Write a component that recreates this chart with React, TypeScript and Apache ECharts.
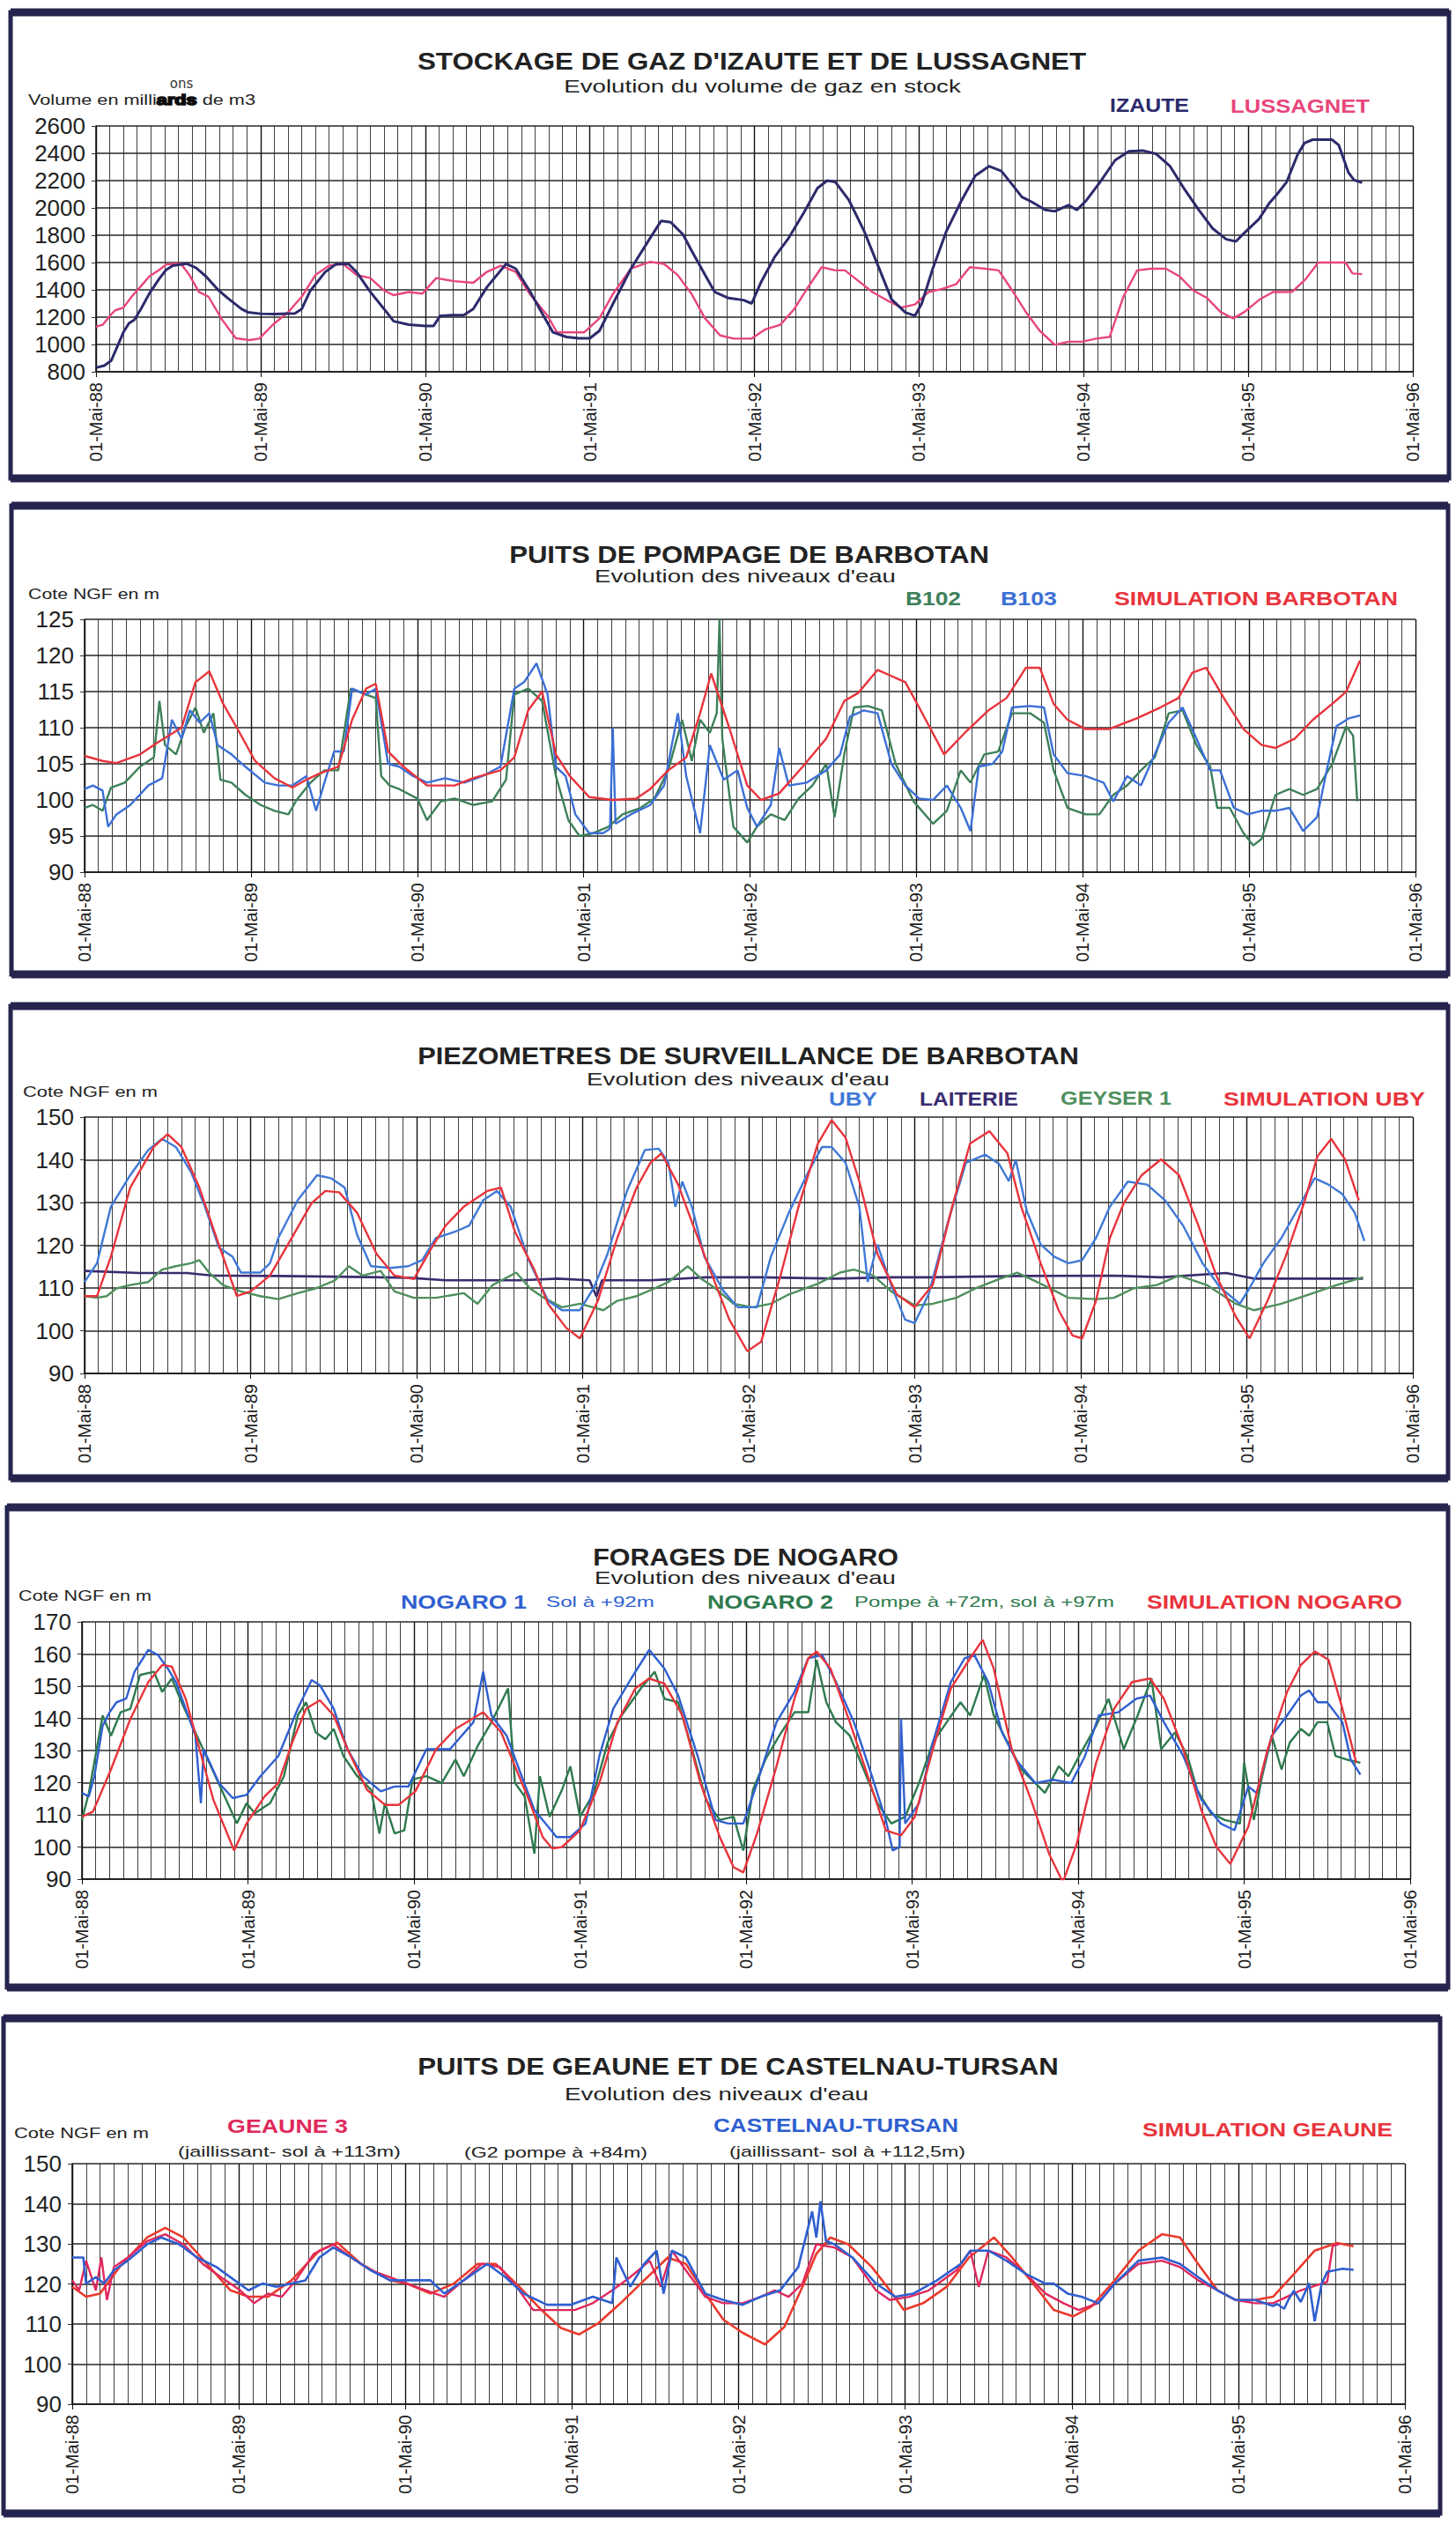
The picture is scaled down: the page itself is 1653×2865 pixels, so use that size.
import React, { useEffect, useRef } from "react";
import * as echarts from "echarts";

// ---------- tick labels ----------
const xTickLabels = ["01-Mai-88", "01-Mai-89", "01-Mai-90", "01-Mai-91", "01-Mai-92", "01-Mai-93", "01-Mai-94", "01-Mai-95", "01-Mai-96"];

// x = months since 01-Mai-88, y = value
// ---------- Panel 1 : gas storage ----------
const izaute = [[0,830],[0.6,845],[1.1,880],[1.45,960],[2,1090],[2.4,1155],[2.8,1180],[3.3,1265],[3.9,1375],[4.6,1480],[5.1,1545],[5.6,1578],[6.6,1592],[7.3,1560],[8,1500],[8.9,1400],[9.6,1340],[10.6,1260],[11.1,1235],[12,1225],[13,1222],[14.5,1228],[15,1260],[15.6,1390],[16.7,1530],[17.5,1588],[18.4,1590],[19,1530],[20,1385],[21,1260],[21.7,1170],[22.8,1145],[24,1135],[24.6,1135],[25.1,1210],[26,1215],[26.8,1215],[27.5,1260],[28.5,1420],[29.9,1590],[30.6,1555],[31.6,1395],[32.6,1215],[33.3,1090],[34.3,1055],[35.2,1045],[36,1045],[36.7,1100],[37.7,1300],[39,1555],[40.4,1780],[41.2,1905],[41.9,1895],[42.8,1805],[43.4,1690],[44.4,1510],[45.1,1385],[46.1,1340],[47.2,1325],[47.8,1300],[48.5,1460],[49.5,1645],[50.5,1780],[51.6,1965],[52.6,2145],[53.3,2200],[53.9,2190],[54.9,2055],[56,1830],[57,1580],[58,1330],[59,1235],[59.7,1210],[60.2,1300],[61,1555],[62,1830],[63.1,2055],[64.1,2235],[65.1,2305],[66,2270],[66.8,2170],[67.5,2080],[68.2,2045],[69.2,1985],[69.9,1975],[70.9,2020],[71.5,1985],[72.2,2055],[73.2,2190],[74.3,2350],[75.3,2415],[76.3,2420],[77.3,2395],[78.3,2305],[79.3,2145],[80.4,1985],[81.4,1850],[82.4,1770],[83.1,1755],[83.7,1815],[84.8,1920],[85.5,2030],[86.1,2100],[86.8,2190],[87.6,2390],[88.1,2475],[88.7,2500],[90.1,2500],[90.6,2460],[91.3,2260],[91.7,2205],[92.3,2185]];
const lussagnet = [[0,1130],[0.5,1145],[1.1,1220],[1.4,1250],[2,1270],[2.6,1350],[3.3,1430],[3.9,1500],[4.6,1545],[5.1,1585],[5.8,1592],[6.2,1590],[6.8,1510],[7.5,1385],[8.2,1350],[9.2,1180],[10.2,1045],[11.2,1032],[11.9,1043],[12.9,1145],[14,1236],[15,1350],[16,1509],[17,1577],[18,1590],[19,1509],[20,1486],[21,1395],[21.7,1361],[22.8,1384],[23.8,1373],[24.8,1486],[26.1,1464],[27.5,1452],[28.5,1532],[29.5,1577],[30.6,1532],[31.6,1373],[32.9,1213],[33.6,1089],[34.6,1089],[35.6,1089],[36.7,1191],[37.7,1373],[39,1555],[40.4,1605],[41.4,1590],[42.4,1509],[43.4,1373],[44.4,1191],[45.5,1066],[46.5,1043],[47.8,1043],[48.8,1111],[49.9,1145],[50.9,1259],[51.9,1418],[52.9,1566],[53.9,1543],[54.6,1543],[55.6,1464],[56.6,1384],[57.6,1327],[58.7,1270],[59.7,1293],[60.7,1384],[61.7,1407],[62.7,1441],[63.7,1566],[64.8,1555],[65.8,1543],[66.8,1395],[67.8,1236],[68.8,1100],[69.9,998],[70.9,1020],[71.9,1020],[72.9,1043],[73.9,1055],[74.9,1350],[75.9,1543],[76.9,1555],[78,1555],[79,1498],[80,1395],[81,1340],[82,1236],[82.9,1191],[83.7,1236],[84.8,1327],[85.8,1384],[86.2,1384],[87.2,1385],[88.2,1480],[89.1,1600],[91.1,1600],[91.6,1520],[92.3,1515]];

// ---------- Panel 2 : Barbotan pumping wells ----------
const b102 = [[0,98.9],[0.6,99.3],[1.3,98.5],[1.9,101.7],[2.9,102.4],[4,104.6],[5,105.9],[5.4,113.7],[5.8,107.6],[6.6,106.3],[7.3,110.2],[8,112.8],[8.6,109.3],[9.3,112],[9.8,102.8],[10.6,102.4],[11.6,100.7],[12.7,99.3],[13.7,98.5],[14.7,98],[15.3,100],[16.3,102.4],[17.3,104.1],[18.3,104.1],[19.2,115.4],[20.3,114.6],[21,114.1],[21.4,103.3],[22,102],[22.7,101.5],[24,100.2],[24.7,97.2],[25.7,99.8],[26.7,100.2],[28,99.3],[29.4,99.8],[30.4,102.8],[31,114.6],[32,115.4],[33,113.7],[34,103.3],[34.9,97.2],[35.7,95],[36.7,95.4],[37.8,96.3],[38.8,98],[40.1,98.9],[41.1,100.2],[42.1,104.1],[43.1,111.1],[43.8,105.4],[44.4,111.1],[45.1,109.3],[45.6,112],[45.8,125],[46,108.5],[46.8,96.3],[47.8,94.1],[48.5,96.3],[49.5,98],[50.5,97.2],[51.5,100.2],[52.5,102],[53.5,105],[54.1,97.6],[54.8,106.3],[55.5,112.8],[56.5,113],[57.5,112.4],[58.5,105],[59.8,99.8],[61.2,96.7],[62.2,98.5],[63.2,104.1],[63.9,102.4],[64.9,106.3],[65.9,106.7],[66.9,112],[68.2,112],[69.2,110.7],[69.9,104.1],[70.9,98.9],[72.2,98],[73.2,98],[74.2,100.7],[75.2,102],[76.2,104.1],[77.2,105.9],[78.2,112],[79.2,112.4],[80.2,107.6],[81.2,104.6],[81.7,98.9],[82.6,98.9],[83.6,95.4],[84.3,93.7],[84.9,94.6],[85.9,100.7],[86.9,101.5],[87.9,100.7],[88.9,101.5],[90,105],[91,110.2],[91.5,108.9],[91.8,99.8]];
const b103 = [[0,101.5],[0.6,102],[1.3,101.3],[1.7,96.3],[2.3,98],[3.3,99.3],[4.6,102],[5.6,103],[6.3,111.1],[7,108.5],[7.6,112.4],[8.3,110.7],[9,112],[9.6,107.6],[10.6,106.3],[11.6,104.6],[13,102.4],[14,102],[15,102],[16,103.3],[16.7,98.5],[17.3,102.4],[18,106.7],[18.7,106.7],[19.3,115.4],[20.3,114.6],[21,115.4],[21.9,105],[22.7,104.6],[23.7,103.3],[24.7,102.4],[26,103],[27.4,102.4],[28.7,103.3],[30,104.6],[31,115.4],[31.7,116.3],[32.6,118.9],[33.4,114.6],[34,104.6],[34.7,103.3],[35.4,98],[36.4,95.4],[37.4,95.4],[37.9,96],[38.1,110],[38.3,96.7],[39.4,98],[40.8,99.3],[41.8,102],[42.8,112],[43.4,103.3],[44.4,95.4],[45.1,107.6],[46.1,102.8],[47.1,104.1],[47.8,98.9],[48.5,96.3],[49.5,99.3],[50.1,107.2],[50.8,102],[52.1,102.4],[53.5,104.1],[54.5,106.3],[55.2,111.5],[56.2,112.4],[57.2,112],[58.2,105],[59.2,102],[60.2,100.2],[61.2,100],[62.2,102],[63.2,98.9],[63.9,95.7],[64.5,104.6],[65.5,105],[66.2,106.7],[66.9,112.8],[68.2,113],[69.2,112.8],[69.9,106.3],[70.9,103.7],[72.2,103.3],[73.5,102.4],[74.2,99.8],[75.2,103.3],[76.2,102],[77.2,106.3],[78.2,110.7],[79.2,112.8],[80.2,108.5],[81.2,104.1],[81.9,104.1],[82.9,98.9],[83.9,98],[84.9,98.5],[85.9,98.5],[86.9,98.9],[87.9,95.7],[88.9,97.6],[89.6,104.1],[90.3,110.2],[91.2,111.3],[92,111.7]];
const simBarbotan = [[0,106.1],[1.3,105.4],[2.3,105.1],[4,106.3],[5.3,108],[7,110],[8,116.3],[9,117.8],[10,113.3],[11.3,108.9],[12.3,105.4],[13.7,103],[15,101.7],[16,102.8],[17,103.7],[18.3,104.6],[19.3,111.1],[20.3,115.4],[21,116.1],[21.9,106.7],[23,104.6],[24.7,102],[26.7,102],[28,103],[30,104.1],[31,105.9],[32,112.4],[33,115],[34,106.3],[35,103.3],[36.4,100.4],[38.1,100],[39.8,100.2],[40.8,101.5],[42.1,104.1],[43.4,105.9],[44.4,112],[45.2,117.5],[46.5,110],[47.8,102],[48.8,100],[50.1,100.9],[51.8,104.6],[53.5,108.5],[54.8,113.7],[55.8,114.8],[57.2,118],[59.2,116.3],[60.2,112.8],[62,106.3],[63.5,109.3],[65.2,112.4],[66.5,114.1],[67.9,118.3],[68.9,118.3],[69.9,113.3],[70.9,111.1],[72.2,109.8],[73.9,109.8],[75.9,111.3],[77.6,112.8],[78.9,114.1],[79.9,117.6],[80.9,118.3],[82.3,113.7],[83.6,109.8],[84.9,107.6],[85.9,107.2],[87.3,108.5],[88.6,111.1],[90,113.3],[91,115],[92,119.3]];

// ---------- Panel 3 : Barbotan piezometers ----------
const uby = [[0,111.4],[0.9,115.8],[1.9,129],[3.3,136.4],[4.6,142.3],[5.6,144.9],[6.6,143],[7.7,137.1],[8.7,129],[9.7,119.5],[10.7,117.3],[11.3,113.6],[12.7,113.6],[13.4,115.8],[14,121.7],[15.4,130.5],[16.8,136.4],[17.8,135.7],[18.8,133.5],[19.7,122.4],[20.7,115.1],[22.1,114.7],[23.4,115.1],[24.4,116.5],[25.4,121.7],[26.8,123.2],[27.8,124.6],[28.8,130.5],[29.8,132.7],[30.8,129],[32.1,116.5],[33.5,107],[34.5,104.8],[35.8,104.8],[36.8,110],[37.8,118],[39.2,132.7],[40.5,142.3],[41.5,142.6],[42.2,139.3],[42.7,129],[43.2,134.9],[43.9,129],[44.8,117.3],[46.2,109.2],[47.2,105.5],[48.6,105.5],[49.6,117.3],[50.9,127.6],[52.3,137.1],[53.3,143],[54,143],[55,139.3],[56,129],[56.6,111.4],[57.3,120.2],[58.3,110.7],[59.3,102.6],[60,101.8],[61,108.5],[62.4,125.4],[63.7,139.3],[65.1,141.2],[66.1,139],[66.8,135],[67.3,140],[68.1,128],[69.1,120.2],[70.1,117.3],[71.1,115.8],[72.1,116.5],[73.1,121.7],[74.1,129],[75.4,134.9],[76.8,134.2],[78.1,130.5],[79.4,124.6],[80.8,115.8],[82.1,110],[83.5,106.3],[84.2,110],[85.2,115.8],[86.5,121.7],[87.9,129.8],[88.9,135.7],[89.9,134.2],[90.9,132],[91.8,127.6],[92.5,121]];
const laiterie = [[0,114],[4,113.5],[7.4,113.5],[9.3,112.9],[14,112.8],[19.4,112.6],[23.4,112.4],[26.1,111.8],[31.5,111.8],[34.2,112.2],[36.5,111.8],[37,108],[37.4,111.8],[40.9,111.8],[44.9,112.5],[48.9,112.5],[54.3,112.2],[58.3,112.5],[61,112.5],[67.7,112.8],[74.4,112.9],[77.8,112.5],[82.5,113.5],[84.5,112.2],[92.4,112.2]];
const geyser1 = [[0,108.1],[0.9,107.7],[1.6,108.1],[2.3,109.9],[3.3,110.7],[4.6,111.4],[5.6,114.3],[6.6,115.1],[7.7,115.8],[8.3,116.5],[9,113.6],[10,110.7],[11.3,109.2],[12.7,108.1],[14,107.4],[15.4,108.8],[16.7,109.9],[18.1,111.8],[19.1,115.1],[20.1,112.9],[21.4,114],[22.4,109.2],[23.8,107.7],[25.4,107.7],[27.4,108.8],[28.4,106.3],[29.5,110.7],[31.2,113.6],[32.2,109.9],[33.2,107.7],[34.5,105.5],[35.8,106.3],[37.5,104.8],[38.5,107],[39.9,108.1],[41.2,109.9],[42.2,111.4],[43.6,115.1],[44.6,112.1],[45.6,109.9],[46.9,106.3],[48.3,105.5],[49.6,106.3],[50.9,108.5],[53,111],[54.6,113.6],[55.6,114.3],[57,112.9],[58.3,109.2],[60,105.9],[61.3,106.3],[63,107.7],[64.4,109.9],[66.1,112.1],[67.4,113.6],[68.4,112.1],[69.8,109.9],[71.1,107.7],[73.1,107.4],[74.4,107.7],[75.8,109.9],[77.5,110.7],[79.1,112.9],[81.1,110.7],[83.2,106.3],[84.5,104.8],[86.5,106.3],[88.5,108.5],[90.5,110.7],[92.4,112.5]];
const simUby = [[0,108.1],[0.9,108.1],[1.9,117.3],[3.3,133.5],[5,143],[6,146],[7,143],[8.3,133.5],[9.7,120.2],[11,108.1],[12,109.2],[13.4,112.9],[14.7,120.2],[16.4,129.8],[17.4,132.7],[18.4,132.4],[19.7,127.6],[21.1,118],[22.4,112.9],[23.8,112.1],[25.1,119.5],[26.1,124.6],[27.4,129],[29.1,132.7],[30.1,133.5],[31.1,123.2],[32.5,114.3],[33.5,106.3],[34.8,100.7],[35.8,98.2],[37.1,107],[38.5,121.7],[39.9,133.5],[40.9,139.3],[41.7,141.5],[42.9,134.2],[43.9,125.4],[45.2,114.3],[46.6,102.6],[47.9,95.2],[48.9,97.4],[50.3,112.9],[51.6,129],[53,143.8],[54,149.3],[55,145.2],[56,134.9],[57.3,118],[58.7,108.5],[60,105.5],[61.3,110.7],[62.7,129],[64,143.8],[65.4,146.7],[66.7,141.5],[67.7,129],[69.1,115.8],[70.4,104.8],[71.4,98.9],[72.1,98.2],[73.1,107],[74.1,121.7],[75.1,129.8],[76.4,136.4],[77.8,140.1],[79.1,136.4],[80.5,124.6],[81.8,112.9],[83.2,103.3],[84.2,98.2],[85.5,107],[86.8,117.3],[88.2,130.5],[89.1,140.8],[90.1,144.9],[91.1,140.1],[92.1,130.5]];

// ---------- Panel 4 : Nogaro boreholes ----------
const nogaro1 = [[0,116.8],[0.5,115.7],[0.9,122],[1.5,137.7],[2,141.9],[2.5,145],[3.2,146.1],[3.8,154.5],[4.8,161.3],[5.5,159.7],[6.2,155.5],[6.8,151.3],[7.5,143],[8.2,134.6],[8.6,113.6],[8.8,130.4],[9.9,119.9],[10.9,115.2],[11.9,116.2],[12.9,122],[14.2,128.3],[15.6,143],[16.6,151.9],[17.2,150.3],[18.2,143],[19.2,130.4],[20.3,122],[21.6,117.3],[22.6,118.8],[23.6,118.8],[24.9,130.4],[26.6,130.4],[28.3,138.8],[29,154.5],[29.6,140.9],[30.7,134.6],[31.7,123],[32.7,111.5],[33.7,106.3],[34.3,103.1],[35.3,103.1],[36.4,107.3],[37.4,128.3],[38.4,143],[39.7,152.4],[41,161.3],[42.1,155.5],[43.1,147.1],[44.5,128.3],[45.8,108.4],[46.7,107.3],[47.8,107.3],[48.8,119.9],[50.2,138.8],[51.5,148.2],[52.5,158.7],[53.5,159.7],[54.5,151.3],[55.8,138.8],[57.1,122],[58.1,108.4],[58.6,98.9],[59.1,100],[59.2,139.8],[59.5,107.3],[60.5,113.6],[61.5,132.5],[62.8,151.3],[63.8,158.7],[64.5,159.7],[65.5,151.3],[66.5,135.6],[67.5,127.2],[68.9,119.9],[70.2,120.9],[71.5,119.9],[72.5,128.3],[73.5,140.9],[74.9,141.9],[76.2,146.1],[77.2,147.1],[78.2,138.8],[79.6,128.3],[80.9,114.7],[82.3,107.3],[83.3,105.2],[84.3,118.8],[84.9,116.8],[86,134.6],[87.1,140.9],[88.1,147.1],[88.7,148.7],[89.3,145],[90,145],[91.1,138.8],[91.7,127.2],[92.4,122.5]];
const nogaro2 = [[0,108.4],[0.5,116.8],[1.5,140.9],[2.1,134.6],[2.8,141.9],[3.5,143],[4.2,153.5],[5.2,154.5],[5.8,148.2],[6.5,152.4],[7.2,145],[8.2,135.6],[9.2,126.2],[10.2,116.8],[11.2,107.3],[11.9,113.6],[12.5,110.5],[13.6,113.6],[14.6,122],[15.6,140.9],[16.2,145],[16.9,135.6],[17.6,133.5],[18.2,136.7],[18.9,128.3],[19.9,122],[20.9,117.8],[21.5,104.2],[21.9,113.6],[22.6,104.2],[23.3,105.2],[23.9,121],[24.9,122],[26,119.9],[27,127.2],[27.6,122],[28.6,131.4],[29.6,138.8],[30.8,149.3],[31.3,119.9],[32,115.7],[32.7,97.9],[33.1,122],[33.8,109.4],[34.7,117.8],[35.3,125.1],[36,109.4],[37,116.8],[38,132.5],[39,140.9],[40.4,149.3],[41.4,154.5],[42.1,146.1],[43.1,145],[44.1,130.4],[45.1,114.7],[46.1,108.4],[47.1,109.4],[47.8,98.9],[48.5,117.8],[49.4,127.2],[50.4,134.6],[51.5,141.9],[52.5,141.9],[53.1,158.2],[53.8,145],[54.5,138.8],[55.5,134.6],[56.5,124.1],[57.5,113.6],[58.5,107.3],[59.5,109.4],[60.5,119.9],[61.5,132.5],[62.5,138.8],[63.5,145],[64.2,140.9],[65.2,153.5],[65.9,140.9],[66.9,132.5],[67.9,124.1],[68.9,119.9],[69.6,116.8],[70.6,125.1],[71.3,122],[72.2,129.3],[73.3,137.7],[74.2,146.1],[75.3,130.4],[76.3,140.9],[77.3,152.4],[78,130.4],[79,135.6],[79.9,128.3],[80.6,117.8],[81.6,110.5],[82.6,108.4],[83.7,107.3],[84,126.2],[84.7,108.4],[85.3,122],[86,134.6],[86.7,124.1],[87.3,132.5],[88.1,136.7],[88.7,134.6],[89.3,138.8],[90,138.8],[90.6,128.3],[91.4,127.2],[92.4,126.2]];
const simNogaro = [[0,109.4],[0.8,111],[2.1,124.1],[3.5,139.8],[4.8,151.3],[5.8,156.6],[6.5,156.1],[7.5,146.1],[8.5,130.4],[9.5,114.7],[11,98.9],[11.9,107.3],[13.2,115.7],[14.2,119.9],[15.2,132.5],[16.2,143],[17.2,145.6],[18.2,140.9],[19.2,130.4],[20.6,117.8],[21.9,113.1],[22.9,113.1],[24.1,117.3],[25.6,130.4],[27,136.7],[29,141.9],[30.3,135.7],[31.3,125.1],[32.3,114.7],[33.3,103.1],[34,99.5],[34.7,100],[36,105.2],[37.4,119.9],[38.7,138.8],[40,149.3],[41,152.4],[42.1,150.8],[43.4,140.9],[44.7,119.9],[46.1,103.1],[47.1,93.7],[47.8,92.1],[48.8,104.2],[50.2,125.1],[51.5,146.1],[52.5,158.7],[53.1,160.8],[54.1,155.5],[55.5,138.8],[56.8,122],[58.1,105.2],[59.2,103.6],[60.2,109.4],[61.5,130.4],[62.8,149.3],[64.2,158.7],[65.1,164.4],[65.9,155.5],[67.2,130.4],[68.6,114.7],[69.9,97.9],[70.9,89],[71.9,101],[73.3,126.2],[74.6,143],[75.9,151.3],[77.2,152.4],[78.2,146.1],[79.6,130.4],[80.9,111.5],[82,100],[83,94.7],[84.3,106.3],[85.7,130.4],[87.1,148.2],[88.1,156.6],[89.1,160.8],[90.1,158.2],[91.1,143],[92.1,126.2]];

// ---------- Panel 5 : Geaune and Castelnau-Tursan ----------
const geaune3 = [[0,120.9],[0.5,118.4],[1,125.8],[1.7,118.4],[2.1,126.6],[2.5,116],[3,124.2],[4,126.6],[5.4,130.7],[6.7,132.4],[8,129.9],[9.4,125],[10.7,121.7],[12.1,118.4],[13.1,115.2],[14.1,117.6],[15.1,116.8],[16.1,120.9],[17.4,127.5],[18.8,129.9],[20.1,126.6],[21.5,123.4],[22.9,121.7],[24.1,120.1],[25.5,118.4],[26.8,116.8],[28.2,120.9],[29.5,125],[30.8,124.2],[32.2,118.4],[33.2,113.5],[34.9,113.5],[36.2,113.5],[37.5,115.2],[38.9,118.4],[40.2,121.7],[41.6,125.8],[42.4,119.3],[43.2,128.3],[44.2,123.4],[45.6,116.8],[46.9,115.2],[48.3,115.2],[49.6,116.8],[50.6,118.4],[51.6,116.8],[52.6,120.1],[53.6,129.9],[54.9,129.1],[56.2,126.6],[57.9,118.4],[58.9,116],[60.3,116.8],[61.7,118.4],[63.7,123.4],[64.7,128.3],[65.3,119.3],[66,128.3],[67.3,126.6],[68.7,122.5],[70.1,117.6],[71.4,115.2],[72.5,113.5],[73.9,115.2],[75.1,120.1],[76.8,125],[78.5,125.8],[79.8,124.2],[81.1,120.9],[82.5,118.4],[83.8,116],[85.2,115.2],[86.5,115.2],[87.5,116.8],[88.5,118.4],[90.4,120.5],[90.8,129.5],[91.3,130]];
const castelnau = [[0,126.6],[0.8,126.6],[1,120.1],[1.7,121.7],[2.3,120.1],[3,123.4],[4,125.8],[5.4,129.9],[6.4,131.6],[7.7,129.9],[9,126.6],[10.4,124.2],[11.7,120.9],[12.7,118.4],[13.7,120.1],[14.7,119.3],[15.8,120.1],[16.8,120.9],[17.8,126.6],[18.8,129.1],[20.1,126.6],[21.5,123.4],[22.9,120.9],[24.1,120.9],[25.8,120.9],[26.8,117.6],[28.2,120.9],[29.9,125],[31.2,121.7],[32.5,117.6],[34.2,114.8],[35.9,114.8],[37.5,116.8],[38.9,115.2],[39.2,126.6],[40.2,119.3],[41.2,125],[42.1,128.3],[42.6,117.6],[43.2,128.3],[44.2,126.6],[45.6,117.6],[46.9,116],[48.3,114.8],[49.6,116.8],[51,118.4],[52.3,124.2],[53.3,138.1],[53.6,131.6],[53.9,140.6],[54.3,130.7],[54.9,129.9],[56.2,126.6],[57.9,120.1],[59.3,116.8],[60.6,117.6],[62.3,120.9],[64,125],[64.7,128.3],[66,128.3],[67.3,125.8],[68.7,122.5],[70.1,120.1],[70.7,120.1],[71.7,117.6],[72.7,116.8],[73.9,115.2],[75.1,120.1],[76.8,125.8],[78.5,126.6],[79.8,125],[81.1,121.7],[82.5,118.4],[83.8,116],[85.2,116],[86.5,114.5],[86.8,115],[87.3,113.8],[87.6,116],[88,118.3],[88.5,115.5],[89.1,120.2],[89.5,110.7],[90,120],[90.4,123],[91.5,123.8],[92.3,123.5]];
const simGeaune = [[0,119.3],[1,116.8],[2,117.6],[3.4,124.2],[5.4,131.6],[6.7,134],[8,131.6],[9.7,125],[11.4,118.4],[12.7,116.8],[14.1,116.8],[15.8,120.9],[17.8,128.3],[19.1,130.3],[20.8,125],[22.9,120.9],[24.1,120.1],[25.8,117.6],[27.5,120.1],[29.2,125],[30.5,125],[32.2,119.3],[33.8,113.5],[35.2,109],[36.5,107.4],[37.9,110.2],[39.5,115.2],[41.2,120.9],[42.9,126.6],[44.2,125],[45.6,117.6],[46.9,111.1],[48.3,107.8],[49.9,104.9],[51.3,109.3],[52.6,119.3],[53.6,127.5],[54.6,131.6],[55.9,129.9],[57.6,124.2],[58.9,118.4],[59.9,113.5],[61.3,115.2],[63,119.3],[64.6,126.6],[66.4,131.6],[67.7,126.6],[69.4,119.3],[70.7,113.5],[72.1,111.9],[73.4,114.3],[75.1,120.9],[76.8,128.3],[78.5,132.4],[79.8,131.6],[81.1,125],[82.5,118.4],[83.8,116],[85.2,116],[86.5,116.8],[87.8,121.7],[89.5,128.3],[91.1,130.2],[92.3,129.4]];

// ---------- layout ----------
const FONT = '"Liberation Sans", Arial, Helvetica, sans-serif';
const INK = "#222222";
const FRAME = "#25244f";

const panels = [
  { grid: { left: 109, top: 143, width: 1495, height: 279 }, y: { min: 800, max: 2600, interval: 200 },
    frame: { x: 12, y: 14, w: 1633, h: 529 },
    series: [
      { name: "LUSSAGNET", data: lussagnet, color: "#e8457b", width: 2.4 },
      { name: "IZAUTE", data: izaute, color: "#2c2a6b", width: 3 },
    ] },
  { grid: { left: 96, top: 703, width: 1511, height: 287 }, y: { min: 90, max: 125, interval: 5 },
    frame: { x: 13, y: 574, w: 1631, h: 532 },
    series: [
      { name: "B102", data: b102, color: "#3d8059", width: 2.4 },
      { name: "B103", data: b103, color: "#3b6fd6", width: 2.4 },
      { name: "SIMULATION BARBOTAN", data: simBarbotan, color: "#e8343c", width: 2.4 },
    ] },
  { grid: { left: 96, top: 1268, width: 1508, height: 291 }, y: { min: 90, max: 150, interval: 10 },
    frame: { x: 12, y: 1142, w: 1632, h: 536 },
    series: [
      { name: "LAITERIE", data: laiterie, color: "#3a2c6e", width: 2.6 },
      { name: "GEYSER 1", data: geyser1, color: "#4f8f5d", width: 2.4 },
      { name: "UBY", data: uby, color: "#4079d6", width: 2.4 },
      { name: "SIMULATION UBY", data: simUby, color: "#e8343c", width: 2.4 },
    ] },
  { grid: { left: 93, top: 1841, width: 1508, height: 292 }, y: { min: 90, max: 170, interval: 10 },
    frame: { x: 8, y: 1711, w: 1636, h: 545 },
    series: [
      { name: "NOGARO 2", data: nogaro2, color: "#2e7a4e", width: 2.4 },
      { name: "NOGARO 1", data: nogaro1, color: "#2f5fd0", width: 2.4 },
      { name: "SIMULATION NOGARO", data: simNogaro, color: "#e8343c", width: 2.4 },
    ] },
  { grid: { left: 82, top: 2456, width: 1513, height: 273 }, y: { min: 90, max: 150, interval: 10 },
    frame: { x: 4, y: 2291, w: 1631, h: 562 },
    series: [
      { name: "SIMULATION GEAUNE", data: simGeaune, color: "#ea3a2c", width: 2.6 },
      { name: "GEAUNE 3", data: geaune3, color: "#e0285c", width: 2.4 },
      { name: "CASTELNAU-TURSAN", data: castelnau, color: "#2f5fd0", width: 2.6 },
    ] },
];

// text: [content, x0, x1, centerY, fontSize, weight, color]
const texts: any[] = [
  ["STOCKAGE DE GAZ D'IZAUTE ET DE LUSSAGNET", 474, 1233, 70, 27, "bold", INK],
  ["Evolution du volume de gaz en stock", 640, 1091, 98, 20, "normal", INK],
  ["IZAUTE", 1260, 1350, 120, 22, "bold", "#2c2a6b"],
  ["LUSSAGNET", 1397, 1555, 120, 22, "bold", "#e8457b"],

  ["PUITS DE POMPAGE DE BARBOTAN", 578, 1123, 630, 27, "bold", INK],
  ["Evolution des niveaux d'eau", 675, 1017, 654, 20, "normal", INK],
  ["Cote NGF en m", 32, 181, 674, 16, "normal", INK],
  ["B102", 1028, 1091, 679, 22, "bold", "#3d8059"],
  ["B103", 1136, 1200, 679, 22, "bold", "#3b6fd6"],
  ["SIMULATION BARBOTAN", 1265, 1587, 679, 22, "bold", "#e8343c"],

  ["PIEZOMETRES DE SURVEILLANCE DE BARBOTAN", 474, 1225, 1199, 27, "bold", INK],
  ["Evolution des niveaux d'eau", 666, 1010, 1225, 20, "normal", INK],
  ["Cote NGF en m", 26, 179, 1240, 16, "normal", INK],
  ["UBY", 941, 996, 1247, 22, "bold", "#4079d6"],
  ["LAITERIE", 1044, 1156, 1247, 22, "bold", "#3a2c6e"],
  ["GEYSER 1", 1204, 1330, 1247, 22, "bold", "#4f8f5d"],
  ["SIMULATION UBY", 1389, 1618, 1247, 22, "bold", "#e8343c"],

  ["FORAGES DE NOGARO", 673, 1020, 1768, 27, "bold", INK],
  ["Evolution des niveaux d'eau", 675, 1017, 1791, 20, "normal", INK],
  ["Cote NGF en m", 21, 172, 1812, 16, "normal", INK],
  ["NOGARO 1", 455, 598, 1818, 22, "bold", "#2f5fd0"],
  ["Sol à +92m", 620, 743, 1818, 17, "normal", "#2f5fd0"],
  ["NOGARO 2", 803, 946, 1818, 22, "bold", "#2e7a4e"],
  ["Pompe à +72m, sol à +97m", 970, 1265, 1818, 17, "normal", "#2e7a4e"],
  ["SIMULATION NOGARO", 1302, 1592, 1818, 22, "bold", "#e8343c"],

  ["PUITS DE GEAUNE ET DE CASTELNAU-TURSAN", 474, 1202, 2346, 27, "bold", INK],
  ["Evolution des niveaux d'eau", 641, 986, 2377, 20, "normal", INK],
  ["Cote NGF en m", 16, 169, 2422, 16, "normal", INK],
  ["GEAUNE 3", 258, 395, 2413, 22, "bold", "#e0285c"],
  ["(jaillissant- sol à +113m)", 202, 455, 2442, 17, "normal", INK],
  ["(G2 pompe à +84m)", 527, 735, 2443, 17, "normal", INK],
  ["CASTELNAU-TURSAN", 810, 1088, 2412, 22, "bold", "#2f5fd0"],
  ["(jaillissant- sol à +112,5m)", 828, 1096, 2442, 17, "normal", INK],
  ["SIMULATION GEAUNE", 1297, 1581, 2417, 22, "bold", "#e8343c"],
];

let measureCtx: CanvasRenderingContext2D | null = null;
function measureWidth(text: string, size: number, weight: string) {
  if (!measureCtx) measureCtx = document.createElement("canvas").getContext("2d");
  measureCtx!.font = `${weight} ${size}px ${FONT}`;
  return measureCtx!.measureText(text).width || 1;
}

function textEl(t: any[]) {
  const [content, x0, x1, cy, size, weight, color] = t;
  const w = measureWidth(content, size, weight);
  return {
    type: "text", x: (x0 + x1) / 2, y: cy, scaleX: (x1 - x0) / w, silent: true, z: 20,
    style: { text: content, fontSize: size, fontWeight: weight, fontFamily: FONT, fill: color, align: "center", verticalAlign: "middle" },
  };
}

function buildOption() {
  const graphic: any[] = [];
  panels.forEach((p) => {
    const f = p.frame;
    graphic.push({ type: "rect", silent: true, z: 1, shape: { x: f.x, y: f.y, width: f.w, height: f.h }, style: { fill: "none", stroke: FRAME, lineWidth: 5 } });
    graphic.push({ type: "line", silent: true, z: 1, shape: { x1: f.x, y1: f.y, x2: f.x + f.w, y2: f.y }, style: { stroke: FRAME, lineWidth: 9 } });
    graphic.push({ type: "line", silent: true, z: 1, shape: { x1: f.x, y1: f.y + f.h, x2: f.x + f.w, y2: f.y + f.h }, style: { stroke: FRAME, lineWidth: 9 } });
  });
  texts.forEach((t) => graphic.push(textEl(t)));
  // y-axis title of panel 1, with the handwritten correction "ons" over the blotted "ards"
  const part1 = "Volume en milli";
  const part2 = "ards";
  const part3 = " de m3";
  const w1 = measureWidth(part1, 16, "normal");
  const w2 = measureWidth(part2, 16, "bold");
  const w3 = measureWidth(part3, 16, "normal");
  const sx = (290 - 32) / (w1 + w2 + w3);
  graphic.push({ type: "text", x: 32, y: 114, scaleX: sx, silent: true, z: 20, style: { text: part1, fontSize: 16, fontFamily: FONT, fill: INK, align: "left", verticalAlign: "middle" } });
  graphic.push({ type: "text", x: 32 + w1 * sx, y: 114, scaleX: sx, silent: true, z: 20, style: { text: part2, fontSize: 16, fontWeight: "bold", fontFamily: FONT, fill: "#0d0d0d", stroke: "#0d0d0d", lineWidth: 1.6, align: "left", verticalAlign: "middle" } });
  graphic.push({ type: "text", x: 32 + (w1 + w2) * sx, y: 114, scaleX: sx, silent: true, z: 20, style: { text: part3, fontSize: 16, fontFamily: FONT, fill: INK, align: "left", verticalAlign: "middle" } });
  graphic.push({ type: "text", x: 206, y: 95, silent: true, z: 20, style: { text: "ons", fontSize: 15, fontFamily: "DejaVu Sans, sans-serif", fill: "#333", align: "center", verticalAlign: "middle" } });

  const grid = panels.map((p) => ({ ...p.grid, containLabel: false }));
  const xAxis = panels.map((p, i) => ({
    type: "value", gridIndex: i, min: 0, max: 96, interval: 12,
    axisLine: { show: true, onZero: false, lineStyle: { color: "#111", width: 1.5 } },
    axisTick: { show: true, length: 6, lineStyle: { color: "#111" } },
    minorTick: { show: false, splitNumber: 12 },
    minorSplitLine: { show: true, lineStyle: { color: "#2a2a2a", width: 0.9 } },
    splitLine: { show: true, lineStyle: { color: "#111", width: 1.4 } },
    axisLabel: {
      rotate: 90, margin: 12, fontSize: 20, fontFamily: FONT, color: INK,
      formatter: (v: number) => xTickLabels[Math.round(v / 12)] ?? "",
    },
  }));
  const yAxis = panels.map((p, i) => ({
    type: "value", gridIndex: i, min: p.y.min, max: p.y.max, interval: p.y.interval,
    axisLine: { show: true, lineStyle: { color: "#111", width: 1.5 } },
    axisTick: { show: true, length: 5, lineStyle: { color: "#333" } },
    splitLine: { show: true, lineStyle: { color: "#5c5c5c", width: 2 } },
    axisLabel: { margin: 12, fontSize: 26, fontFamily: FONT, color: INK, formatter: (v: number) => String(v) },
  }));
  const series: any[] = [];
  panels.forEach((p, i) => {
    p.series.forEach((s) => {
      series.push({
        type: "line", name: s.name, xAxisIndex: i, yAxisIndex: i, data: s.data,
        showSymbol: false, symbol: "none", smooth: false, clip: true,
        lineStyle: { color: s.color, width: s.width }, itemStyle: { color: s.color },
        z: 5,
      });
    });
  });
  return { animation: false, backgroundColor: "#ffffff", grid, xAxis, yAxis, series, graphic };
}

export default function App() {
  const ref = useRef<HTMLDivElement>(null);
  useEffect(() => {
    if (!ref.current) return;
    const chart = echarts.init(ref.current, null, { renderer: "svg" });
    chart.setOption(buildOption() as any);
    return () => chart.dispose();
  }, []);
  return <div ref={ref} style={{ position: "absolute", left: 0, top: 0, width: 1653, height: 2865, background: "#fff" }} />;
}
